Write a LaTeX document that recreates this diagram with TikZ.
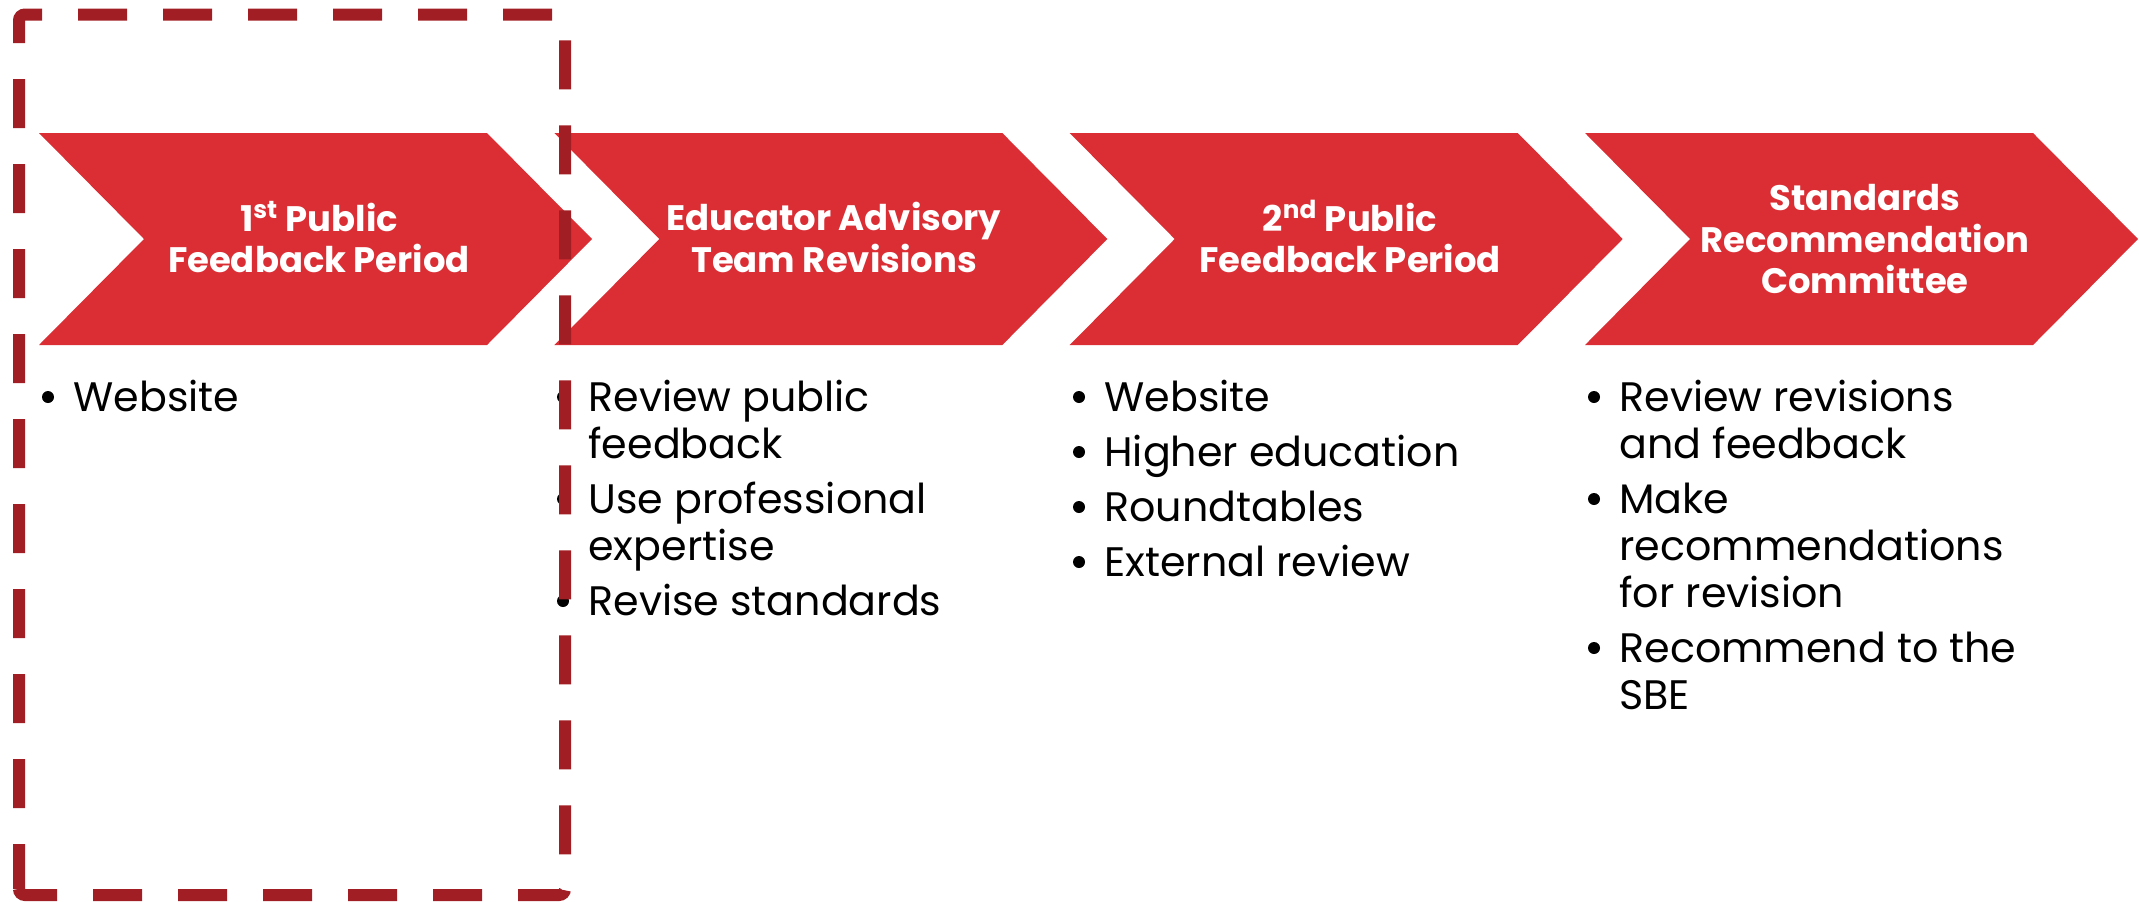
\documentclass[tikz,border=0pt]{standalone}
\usepackage{fontspec}
\setmainfont{Poppins}
\definecolor{chevred}{HTML}{DA2E34}
\definecolor{dashred}{HTML}{A11F24}
\begin{document}
\begin{tikzpicture}[x=0.5pt,y=-0.5pt,
  chevron/.style={fill=chevred,draw=none},
  title/.style={font=\fontsize{17.7}{22}\selectfont\bfseries,text=white,anchor=base,inner sep=0pt},
  body/.style={font=\fontsize{20.6}{25}\selectfont,text=black,anchor=base west,inner sep=0pt},
  bul/.style={circle,fill=black,draw=none,inner sep=0pt,minimum size=6pt},
  frame/.style={draw=dashred,line width=6pt,rounded corners=3pt,dash pattern=on 24.5pt off 18pt,dash phase=2pt}]
\useasboundingbox (0,0) rectangle (2139,901);
% chevrons
\foreach \L/\n in {39/1,554.3/2,1069.7/3,1585/4}{
  \fill[chevron] (\L,133) -- ++(448,0) -- ++(105,106) -- ++(-105,106) -- ++(-448,0) -- ++(105,-106) -- cycle;
}
% titles
\node[title] (t1a) at (319,231) {1\textsuperscript{st} Public};
\node[title] (t1b) at (319,272) {Feedback Period};
\node[title] (t2a) at (834,230) {Educator Advisory};
\node[title] (t2b) at (834,272) {Team Revisions};
\node[title] (t3a) at (1350,231) {2\textsuperscript{nd} Public};
\node[title] (t3b) at (1350,272) {Feedback Period};
\node[title] (t4a) at (1865,210) {Standards};
\node[title] (t4b) at (1865,252) {Recommendation};
\node[title] (t4c) at (1865,293) {Committee};
% column 1
\node[bul] (b11) at (48,397) {};
\node[body] (c11) at (73,411) {Website};
% column 2
\node[bul] (b21) at (563,397) {};
\node[bul] (b22) at (563,499) {};
\node[bul] (b23) at (563,601) {};
\node[body] (c21) at (588,411) {Review public};
\node[body] (c22) at (588,458) {feedback};
\node[body] (c23) at (588,513) {Use professional};
\node[body] (c24) at (588,560) {expertise};
\node[body] (c25) at (588,615) {Revise standards};
% column 3
\node[bul] (b31) at (1079,397) {};
\node[bul] (b32) at (1079,452) {};
\node[bul] (b33) at (1079,507) {};
\node[bul] (b34) at (1079,562) {};
\node[body] (c31) at (1104,411) {Website};
\node[body] (c32) at (1104,466) {Higher education};
\node[body] (c33) at (1104,521) {Roundtables};
\node[body] (c34) at (1104,576) {External review};
% column 4
\node[bul] (b41) at (1594,397) {};
\node[bul] (b42) at (1594,499) {};
\node[bul] (b43) at (1594,648) {};
\node[body] (c41) at (1619,411) {Review revisions};
\node[body] (c42) at (1619,458) {and feedback};
\node[body] (c43) at (1619,513) {Make};
\node[body] (c44) at (1619,560) {recommendations};
\node[body] (c45) at (1619,607) {for revision};
\node[body] (c46) at (1619,662) {Recommend to the};
\node[body] (c47) at (1619,709) {SBE};
% dashed frame
\draw[frame] (19,895) -- (19,14.5) -- (565,14.5) -- (565,895) -- cycle;
\end{tikzpicture}
\end{document}
